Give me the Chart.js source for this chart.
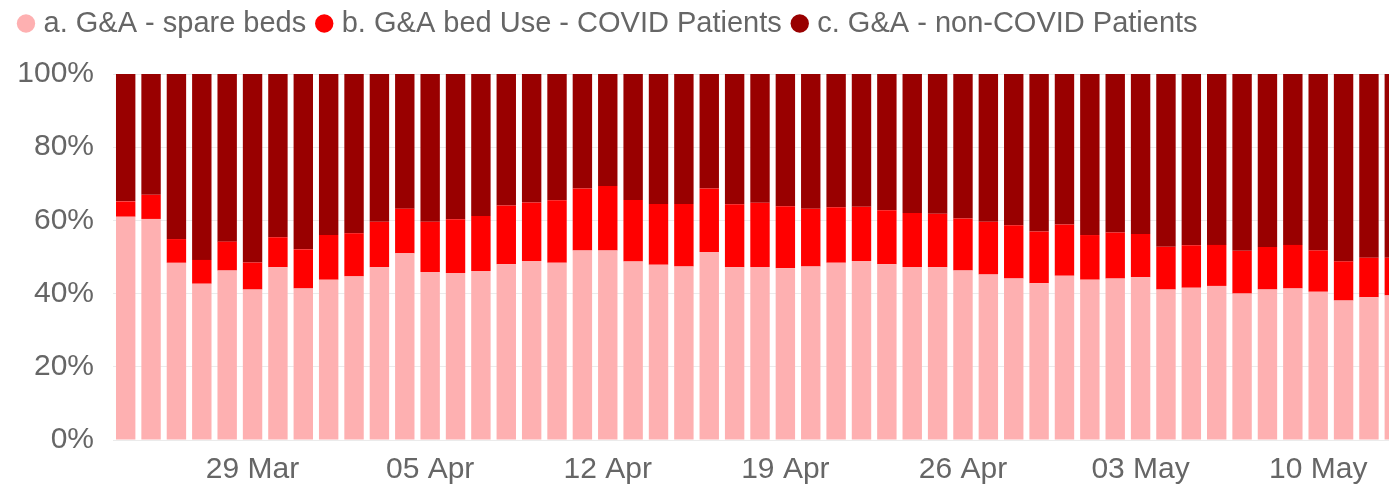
<!DOCTYPE html>
<html>
<head>
<meta charset="utf-8">
<script src="https://cdn.jsdelivr.net/npm/chart.js@4"></script>
<style>
    html, body { margin: 0; padding: 0; background: #fff; overflow: hidden; }
    .chart-box { position: relative; width: 1407px; height: 486px; }
</style>
</head>
<body>
<div class="chart-box"><canvas id="bedChart"></canvas></div>
<script>
// Fechas (una barra por día)
const categories = [
    '24 Mar', '25 Mar', '26 Mar', '27 Mar', '28 Mar', '29 Mar', '30 Mar', '31 Mar',
    '01 Apr', '02 Apr', '03 Apr', '04 Apr', '05 Apr', '06 Apr', '07 Apr', '08 Apr',
    '09 Apr', '10 Apr', '11 Apr', '12 Apr', '13 Apr', '14 Apr', '15 Apr', '16 Apr',
    '17 Apr', '18 Apr', '19 Apr', '20 Apr', '21 Apr', '22 Apr', '23 Apr', '24 Apr',
    '25 Apr', '26 Apr', '27 Apr', '28 Apr', '29 Apr', '30 Apr', '01 May', '02 May',
    '03 May', '04 May', '05 May', '06 May', '07 May', '08 May', '09 May', '10 May',
    '11 May', '12 May', '13 May'
];

// Etiquetas visibles del eje X
const xTickLabels = ['29 Mar', '05 Apr', '12 Apr', '19 Apr', '26 Apr', '03 May', '10 May'];
const yTickValues = [0, 20, 40, 60, 80, 100];

// Porcentajes por serie
const spareBeds = [
    61.0, 60.4, 48.4, 42.7, 46.3, 41.1, 47.2, 41.4, 43.8, 44.7,
    47.2, 51.0, 45.9, 45.6, 46.2, 48.0, 48.9, 48.4, 51.8, 51.8,
    48.8, 47.9, 47.4, 51.4, 47.2, 47.3, 46.9, 47.4, 48.4, 48.9,
    48.0, 47.3, 47.2, 46.3, 45.2, 44.1, 42.8, 44.9, 43.8, 44.1,
    44.5, 41.1, 41.6, 42.1, 40.0, 41.1, 41.4, 40.5, 38.1, 39.0, 39.5
];
const covidPatients = [
    4.2, 6.6, 6.5, 6.5, 7.9, 7.4, 8.2, 10.7, 12.2, 11.8,
    12.4, 12.2, 13.7, 14.7, 15.0, 16.1, 16.0, 17.1, 16.9, 17.6,
    16.8, 16.6, 17.1, 17.3, 17.2, 17.5, 17.0, 15.8, 15.2, 14.8,
    14.8, 14.7, 14.6, 14.2, 14.4, 14.6, 14.2, 14.0, 12.2, 12.6,
    11.8, 11.7, 11.6, 11.2, 11.7, 11.6, 11.9, 11.3, 10.7, 10.8, 10.3
];
const nonCovidPatients = [
    34.8, 33.0, 45.1, 50.8, 45.8, 51.5, 44.6, 47.9, 44.0, 43.5,
    40.4, 36.8, 40.4, 39.7, 38.8, 35.9, 35.1, 34.5, 31.3, 30.6,
    34.4, 35.5, 35.5, 31.3, 35.6, 35.2, 36.1, 36.8, 36.4, 36.3,
    37.2, 38.0, 38.2, 39.5, 40.4, 41.3, 43.0, 41.1, 44.0, 43.3,
    43.7, 47.2, 46.8, 46.7, 48.3, 47.3, 46.7, 48.2, 51.2, 50.2, 50.2
];

const textColor = '#666666';
const fontFamily = '"Liberation Sans", Arial, sans-serif';

// Espacio extra bajo la leyenda
const legendSpacer = {
    id: 'legendSpacer',
    beforeInit(chart) {
        const originalFit = chart.legend.fit;
        chart.legend.fit = function() {
            originalFit.bind(chart.legend)();
            this.height += 26;
        };
    }
};

document.addEventListener('DOMContentLoaded', function() {
    const ctx = document.getElementById('bedChart');

    new Chart(ctx, {
        type: 'bar',
        data: {
            labels: categories,
            datasets: [{
                label: 'a. G&A - spare beds',
                data: spareBeds,
                backgroundColor: '#FEB0B1'
            }, {
                label: 'b. G&A bed Use - COVID Patients',
                data: covidPatients,
                backgroundColor: '#FF0000'
            }, {
                label: 'c. G&A - non-COVID Patients',
                data: nonCovidPatients,
                backgroundColor: '#990000'
            }]
        },
        plugins: [legendSpacer],
        options: {
            responsive: true,
            maintainAspectRatio: false,
            animation: false,
            barPercentage: 0.765,
            categoryPercentage: 1,
            layout: {
                padding: { left: 8, right: 0, top: -6, bottom: 0 }
            },
            plugins: {
                tooltip: { enabled: false },
                legend: {
                    position: 'top',
                    align: 'start',
                    labels: {
                        usePointStyle: true,
                        pointStyle: 'circle',
                        boxWidth: 6,
                        boxHeight: 13,
                        padding: 15,
                        color: textColor,
                        font: { family: fontFamily, size: 29 }
                    }
                }
            },
            scales: {
                x: {
                    stacked: true,
                    grid: { display: false, drawTicks: false },
                    border: { display: false },
                    ticks: {
                        autoSkip: false,
                        maxRotation: 0,
                        padding: 12,
                        color: textColor,
                        font: { family: fontFamily, size: 30 },
                        callback: function(value, index) {
                            const label = categories[index];
                            return xTickLabels.includes(label) ? label : '';
                        }
                    },
                    afterFit: function(scale) {
                        scale.height = 46;
                    }
                },
                y: {
                    stacked: true,
                    min: 0,
                    max: 100,
                    grid: { color: 'rgba(0, 0, 0, 0.08)', drawTicks: false },
                    border: { display: false },
                    afterBuildTicks: function(scale) {
                        scale.ticks = yTickValues.map(v => ({ value: v }));
                    },
                    ticks: {
                        padding: 19,
                        color: textColor,
                        font: { family: fontFamily, size: 30 },
                        callback: function(value) {
                            return value + '%';
                        }
                    },
                    afterFit: function(scale) {
                        scale.width = 105;
                    }
                }
            }
        }
    });
});
</script>
</body>
</html>
